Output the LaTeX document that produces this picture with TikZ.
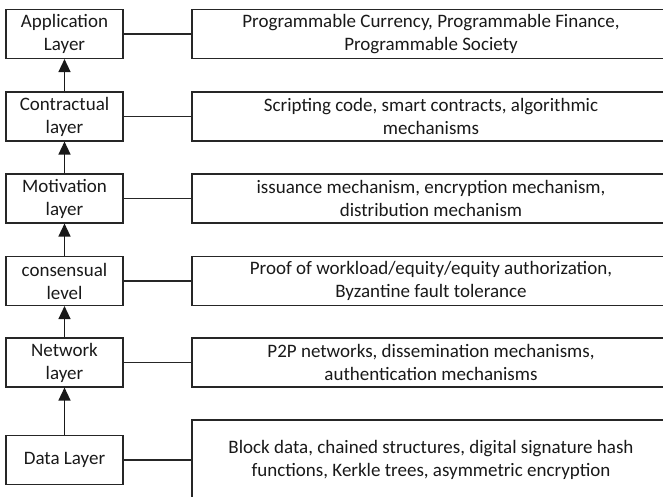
\documentclass[tikz,border=0pt]{standalone}
\usepackage{fontspec}
\setmainfont{Carlito}
\usetikzlibrary{arrows.meta,positioning}

\begin{document}
\begin{tikzpicture}[x=1pt,y=-1pt]

% --- STYLES ---
\tikzset{
  layer/.style={draw=black!85, line width=1.1pt, text=black!90,
                minimum width=117pt, minimum height=49pt, inner sep=0pt,
                align=center, font=\fontsize{19}{23}\selectfont},
  detail/.style={layer, minimum width=478pt},
  link/.style={black!85, line width=1.1pt},
  up/.style={black!90, line width=1.3pt, -{Triangle[length=13pt, width=12pt]}},
}

% ================= FRAME =================
\useasboundingbox (0,0) rectangle (663,497);
\clip (0,0) rectangle (663,497);

% ================= LAYERS =================
\node[layer] (app)  at (64.5, 34.0)  {Application\\Layer};
\node[layer] (con)  at (64.5, 116.5) {Contractual\\layer};
\node[layer] (mot)  at (64.5, 198.5) {Motivation\\layer};
\node[layer] (cons) at (64.5, 281.0) {consensual\\level};
\node[layer] (net)  at (64.5, 362.5) {Network\\layer};
\node[layer] (dat)  at (64.5, 460.0) {Data Layer};

% ================= DETAILS =================
\node[detail] (appR)  at (431, 34.0)  {Programmable Currency, Programmable Finance,\\Programmable Society};
\node[detail] (conR)  at (431, 116.5) {Scripting code, smart contracts, algorithmic\\mechanisms};
\node[detail] (motR)  at (431, 198.5) {issuance mechanism, encryption mechanism,\\distribution mechanism};
\node[detail] (consR) at (431, 281.0) {Proof of workload/equity/equity authorization,\\Byzantine fault tolerance};
\node[detail] (netR)  at (431, 362.5) {P2P networks, dissemination mechanisms,\\authentication mechanisms};
\node[detail, minimum height=80pt] (datR) at (431, 460.0) {Block data, chained structures, digital signature hash\\functions, Kerkle trees, asymmetric encryption};

% --- links ---
\draw[link] (app) -- (appR);
\draw[link] (con) -- (conR);
\draw[link] (mot) -- (motR);
\draw[link] (cons) -- (consR);
\draw[link] (net) -- (netR);
\draw[link] (dat) -- (datR);

% --- stack arrows ---
\draw[up] (con) -- (app);
\draw[up] (mot) -- (con);
\draw[up] (cons) -- (mot);
\draw[up] (net) -- (cons);
\draw[up] (dat) -- (net);

\end{tikzpicture}
\end{document}
